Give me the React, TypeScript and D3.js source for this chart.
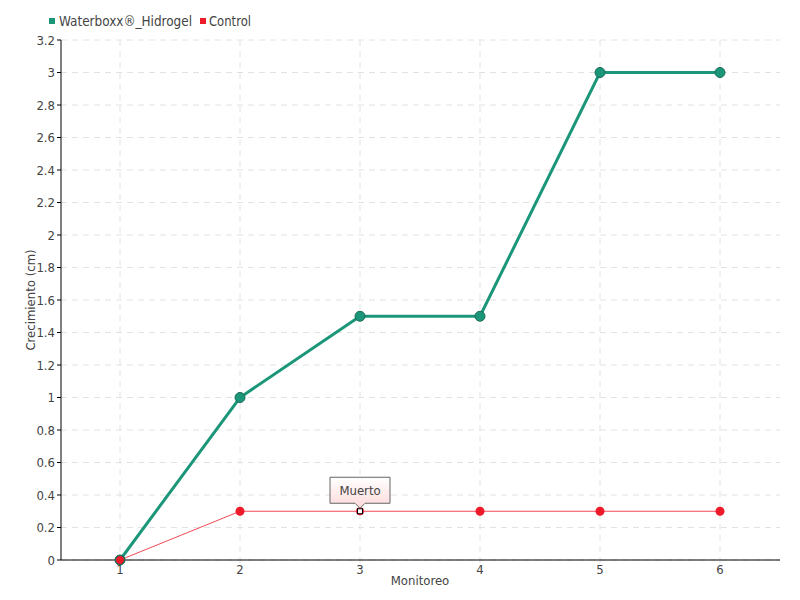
import React from "react";
import * as d3 from "d3";

const categories = [1, 2, 3, 4, 5, 6];
const waterboxx = [0, 1, 1.5, 1.5, 3, 3];
const control = [0, 0.3, 0.3, 0.3, 0.3, 0.3];
const yTicks = [0, 0.2, 0.4, 0.6, 0.8, 1, 1.2, 1.4, 1.6, 1.8, 2, 2.2, 2.4, 2.6, 2.8, 3, 3.2];
const seriesNames = ["Waterboxx®_Hidrogel", "Control"];
const annotation = { index: 2, label: "Muerto" };

const W = 800, H = 600;
const FONT = "'DejaVu Sans Condensed', 'Liberation Sans Narrow', 'DejaVu Sans', sans-serif";
const TXT = "#444";

export default function App() {
  const x = d3.scaleLinear().domain([0.5, 6.5]).range([60, 780]);
  const y = d3.scaleLinear().domain([0, 3.2]).range([560, 40]);
  const line = d3.line<number>().x((_, i) => x(categories[i])).y((d) => y(d));
  const green = "#1b9679";
  const red = "#ee1c2b";
  const ax = 61, ay = 560;
  const ann = annotation.index;
  const axp = x(categories[ann]), ayp = y(control[ann]);
  return (
    <svg width={W} height={H} style={{ position: "absolute", left: 0, top: 0, background: "#fff" }} fontFamily={FONT}>
      <defs>
        <linearGradient id="tip" x1="0" y1="0" x2="0" y2="1">
          <stop offset="0" stopColor="#ffffff" />
          <stop offset="1" stopColor="#fcd9d9" />
        </linearGradient>
      </defs>
      {yTicks.map((t) => (
        <line key={"gy" + t} x1={ax} x2={780} y1={y(t)} y2={y(t)} stroke="#e2e2e2" strokeDasharray="6,5" />
      ))}
      {categories.map((c) => (
        <line key={"gx" + c} x1={x(c)} x2={x(c)} y1={40} y2={ay + 8} stroke="#e2e2e2" strokeDasharray="6,5" />
      ))}
      <line x1={ax} x2={ax} y1={40} y2={ay} stroke="#000" strokeWidth={1} />
      <line x1={ax} x2={780} y1={ay} y2={ay} stroke="#000" strokeWidth={1} />
      {yTicks.map((t) => (
        <g key={"ty" + t}>
          <line x1={ax - 4} x2={ax} y1={y(t)} y2={y(t)} stroke="#000" />
          <text x={ax - 6} y={y(t)} dy="0.35em" textAnchor="end" fontSize={13} fill={TXT}>{String(t)}</text>
        </g>
      ))}
      {categories.map((c) => (
        <text key={"tx" + c} x={x(c)} y={ay + 14} textAnchor="middle" fontSize={13} fill={TXT}>{c}</text>
      ))}
      <text x={420} y={585} textAnchor="middle" fontSize={13} fill={TXT}>Monitoreo</text>
      <text transform={`translate(35,300) rotate(-90)`} textAnchor="middle" fontSize={13} fill={TXT}>Crecimiento (cm)</text>
      <path d={line(waterboxx) || ""} fill="none" stroke={green} strokeWidth={3} />
      <path d={line(control) || ""} fill="none" stroke={red} strokeOpacity={0.8} strokeWidth={1} />
      {waterboxx.map((v, i) => (
        <circle key={"gp" + i} cx={x(categories[i])} cy={y(v)} r={5} fill={green} stroke="#1a6a55" strokeWidth={1} />
      ))}
      {control.map((v, i) =>
        i === ann ? (
          <g key={"rp" + i}>
            <circle cx={x(categories[i])} cy={y(v)} r={4} fill={red} />
            <rect x={x(categories[i]) - 2.5} y={y(v) - 2.5} width={5} height={5} fill="#fff" stroke="#000" strokeWidth={1} />
          </g>
        ) : (
          <circle key={"rp" + i} cx={x(categories[i])} cy={y(v)} r={4.5} fill={red} stroke={i === 0 ? "#1a6a55" : "none"} />
        )
      )}
      <g>
        <path
          d={`M${axp - 30},${ayp - 34} H${axp + 30} V${ayp - 8} H${axp + 5} L${axp},${ayp - 3} L${axp - 5},${ayp - 8} H${axp - 30} Z`}
          fill="url(#tip)"
          stroke="#666"
          strokeWidth={1}
        />
        <text x={axp} y={ayp - 16} textAnchor="middle" fontSize={13} fill={TXT}>{annotation.label}</text>
      </g>
      <rect x={49} y={18} width={6} height={6} fill={green} />
      <text x={59} y={26} fontSize={14} fill={TXT} textLength={133} lengthAdjust="spacingAndGlyphs">{seriesNames[0]}</text>
      <rect x={200} y={18} width={6} height={6} fill={red} />
      <text x={209} y={26} fontSize={14} fill={TXT} textLength={42} lengthAdjust="spacingAndGlyphs">{seriesNames[1]}</text>
    </svg>
  );
}
